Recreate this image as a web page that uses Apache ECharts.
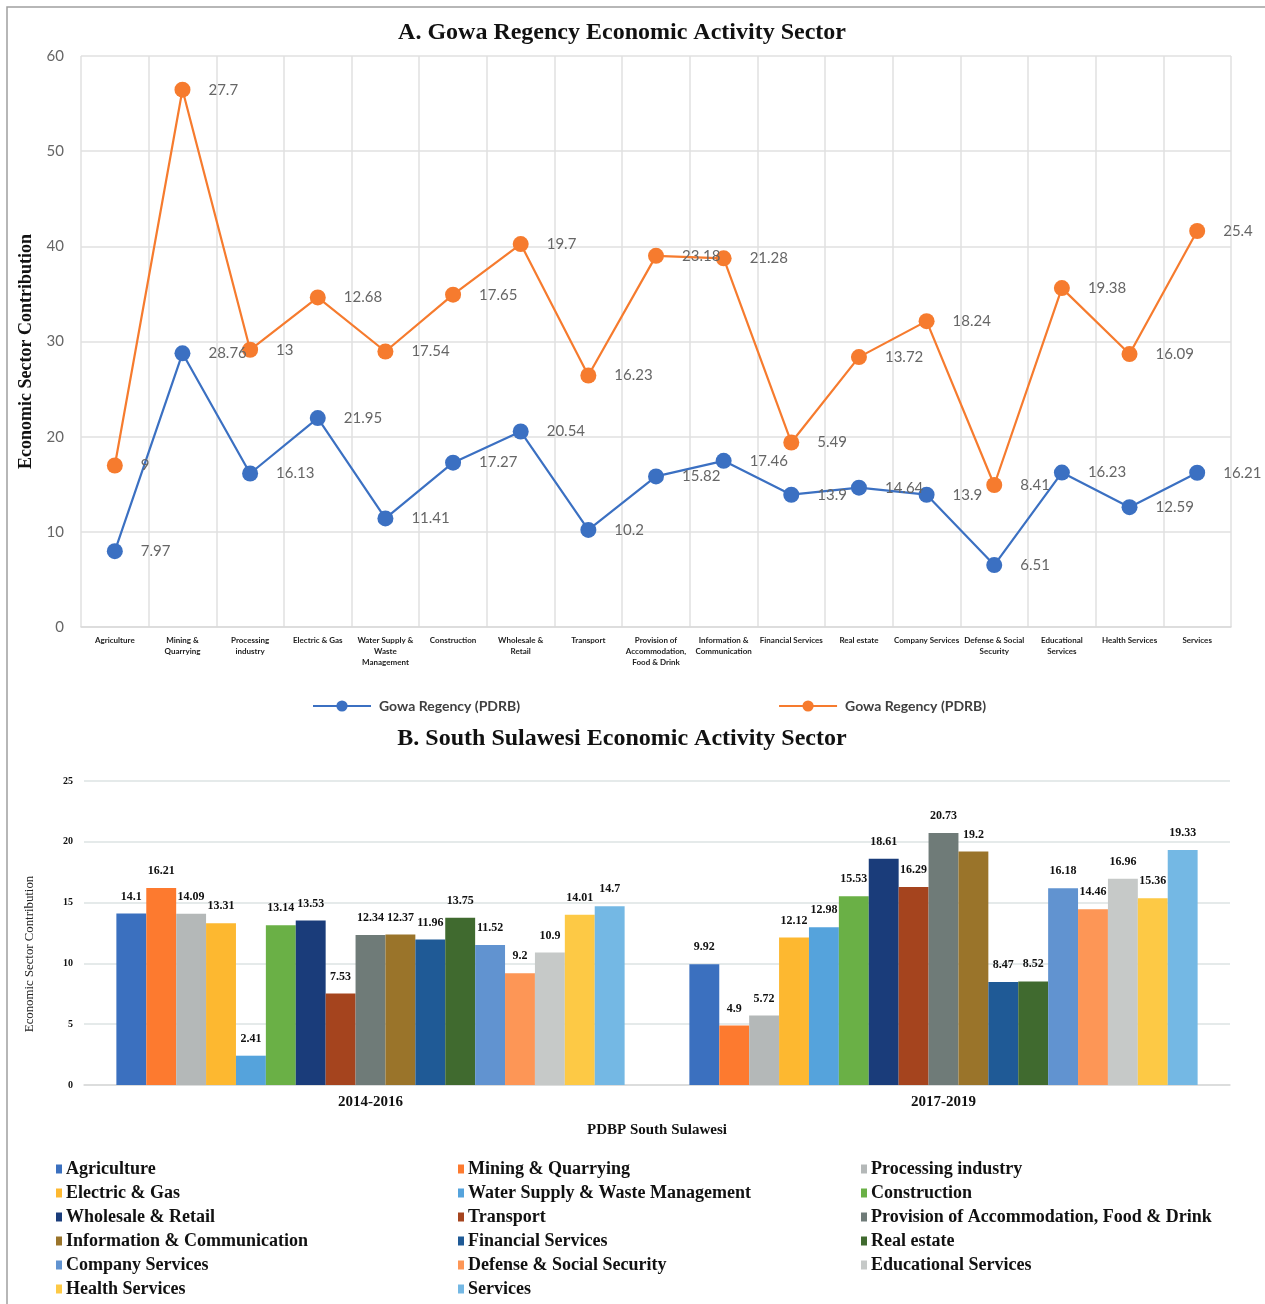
<!DOCTYPE html>
<html>
<head>
<meta charset="utf-8">
<script src="https://cdn.jsdelivr.net/npm/echarts@6/dist/echarts.min.js"></script>
<style>html,body{margin:0;padding:0;background:#fff;}#c{width:1265px;height:1304px;}</style>
</head>
<body>
<div id="c"></div>
<script>
// ---------- Data ----------
const sectorsTop = ["Agriculture", "Mining &\nQuarrying", "Processing\nindustry", "Electric & Gas",
  "Water Supply &\nWaste\nManagement", "Construction", "Wholesale &\nRetail", "Transport",
  "Provision of\nAccommodation,\nFood & Drink", "Information &\nCommunication", "Financial Services",
  "Real estate", "Company Services", "Defense & Social\nSecurity", "Educational\nServices",
  "Health Services", "Services"];
const gowaBlue = [7.97, 28.76, 16.13, 21.95, 11.41, 17.27, 20.54, 10.2, 15.82, 17.46, 13.9, 14.64, 13.9, 6.51, 16.23, 12.59, 16.21];
const gowaOrange = [9, 27.7, 13, 12.68, 17.54, 17.65, 19.7, 16.23, 23.18, 21.28, 5.49, 13.72, 18.24, 8.41, 19.38, 16.09, 25.4];
const topTicks = [0, 10, 20, 30, 40, 50, 60];

const periods = ["2014-2016", "2017-2019"];
const sectorNames = ["Agriculture", "Mining & Quarrying", "Processing industry", "Electric & Gas",
  "Water Supply & Waste Management", "Construction", "Wholesale & Retail", "Transport",
  "Provision of Accommodation, Food & Drink", "Information & Communication", "Financial Services",
  "Real estate", "Company Services", "Defense & Social Security", "Educational Services",
  "Health Services", "Services"];
const agriculture = [14.1, 9.92];
const mining = [16.21, 4.9];
const processing = [14.09, 5.72];
const electric = [13.31, 12.12];
const water = [2.41, 12.98];
const construction = [13.14, 15.53];
const wholesale = [13.53, 18.61];
const transport = [7.53, 16.29];
const provision = [12.34, 20.73];
const information = [12.37, 19.2];
const financial = [11.96, 8.47];
const realEstate = [13.75, 8.52];
const company = [11.52, 16.18];
const defense = [9.2, 14.46];
const educational = [10.9, 16.96];
const health = [14.01, 15.36];
const services = [14.7, 19.33];
const bottomTicks = [0, 5, 10, 15, 20, 25];

const sulawesiValues = [agriculture, mining, processing, electric, water, construction, wholesale,
  transport, provision, information, financial, realEstate, company, defense, educational, health, services];
const barColors = ["#3b70bf", "#fd7a2f", "#b4b8b8", "#fdb830", "#55a3dc", "#6ab046", "#1a3c7a",
  "#a5441e", "#6f7b78", "#9a742a", "#1f5a96", "#406a2f", "#6193d0", "#fd9656", "#c6c9c8", "#fdc945", "#74b8e4"];

// ---------- Chart ----------
const serif = "'Liberation Serif', 'Times New Roman', serif";
const sans = "Lato, 'Open Sans', sans-serif";
const chart = echarts.init(document.getElementById('c'), null, {renderer: 'canvas'});

const barSeries = sectorNames.map((n, i) => ({
  name: n,
  type: 'bar',
  xAxisIndex: 1, yAxisIndex: 1,
  data: sulawesiValues[i],
  barGap: '0%',
  barCategoryGap: '11.3%',
  itemStyle: {color: barColors[i]},
  label: {show: true, position: 'top', distance: 11, fontFamily: serif, fontWeight: 'bold', fontSize: 12, color: '#111'}
}));

const col1 = [0, 3, 6, 9, 12, 15].map(i => sectorNames[i]);
const col2 = [1, 4, 7, 10, 13, 16].map(i => sectorNames[i]);
const col3 = [2, 5, 8, 11, 14].map(i => sectorNames[i]);
const legendCol = (names, left) => ({
  orient: 'vertical', left: left, top: 1160, height: 150, padding: 0, data: names,
  itemWidth: 6, itemHeight: 9, itemGap: 6, icon: 'rect',
  textStyle: {fontFamily: serif, fontWeight: 'bold', fontSize: 18, lineHeight: 18, color: '#111', padding: [0, 0, 0, -1]}
});

const option = {
  animation: false,
  backgroundColor: '#fff',
  graphic: [{type: 'rect', shape: {x: 7, y: 7, width: 1400, height: 1400}, style: {fill: 'none', stroke: '#a0a0a0', lineWidth: 1.5}, silent: true}],
  title: [
    {text: 'A. Gowa Regency Economic Activity Sector', left: 617, top: 16, textAlign: 'center',
      textStyle: {fontFamily: serif, fontWeight: 'bold', fontSize: 24, color: '#111'}},
    {text: 'B. South Sulawesi Economic Activity Sector', left: 617, top: 722, textAlign: 'center',
      textStyle: {fontFamily: serif, fontWeight: 'bold', fontSize: 24, color: '#111'}}
  ],
  legend: [
    {left: 307, top: 694, itemWidth: 58, itemHeight: 14, itemGap: 258,
      data: ['Gowa Regency (PDRB)', 'Gowa Regency (PDRB) '],
      textStyle: {fontFamily: sans, fontWeight: 'bold', fontSize: 14, color: '#404040', padding: [0, 0, 0, 3]}},
    legendCol(col1, 56), legendCol(col2, 458), legendCol(col3, 861)
  ],
  grid: [
    {left: 81, top: 56, width: 1150, height: 571},
    {left: 84, top: 781, width: 1146, height: 304}
  ],
  xAxis: [
    {type: 'category', gridIndex: 0, data: sectorsTop, boundaryGap: true,
      axisLine: {lineStyle: {color: '#d9d9d9', width: 1.5}}, axisTick: {show: false},
      splitLine: {show: true, lineStyle: {color: '#e1e1e1', width: 1.5}},
      axisLabel: {interval: 0, margin: 8, fontFamily: sans, fontWeight: 'bold', fontSize: 8, lineHeight: 11, color: '#222'}},
    {type: 'category', gridIndex: 1, data: periods,
      name: 'PDBP South Sulawesi', nameLocation: 'middle', nameGap: 38,
      nameTextStyle: {fontFamily: serif, fontWeight: 'bold', fontSize: 15, color: '#111'},
      axisLine: {lineStyle: {color: '#d9d9d9', width: 1.5}}, axisTick: {show: false},
      axisLabel: {margin: 10, fontFamily: serif, fontWeight: 'bold', fontSize: 15, color: '#111'}}
  ],
  yAxis: [
    {type: 'value', gridIndex: 0, min: topTicks[0], max: topTicks[topTicks.length - 1], interval: 10,
      name: 'Economic Sector Contribution', nameLocation: 'middle', nameGap: 44,
      nameTextStyle: {fontFamily: serif, fontWeight: 'bold', fontSize: 18, color: '#111', padding: [0, 20, 0, 0]},
      axisLine: {show: false}, axisTick: {show: false},
      splitLine: {lineStyle: {color: '#e1e1e1', width: 1.5}},
      axisLabel: {margin: 17, fontFamily: sans, fontSize: 15, color: '#666'}},
    {type: 'value', gridIndex: 1, min: bottomTicks[0], max: bottomTicks[bottomTicks.length - 1], interval: 5,
      name: 'Economic Sector Contribution', nameLocation: 'middle', nameGap: 48,
      nameTextStyle: {fontFamily: serif, fontSize: 12.8, color: '#222', padding: [0, 42, 0, 0]},
      axisLine: {show: false}, axisTick: {show: false},
      splitLine: {lineStyle: {color: '#dde3e3', width: 1.5}},
      axisLabel: {margin: 11, fontFamily: serif, fontWeight: 'bold', fontSize: 10, color: '#111'}}
  ],
  series: [
    {name: 'Gowa Regency (PDRB)', type: 'line', xAxisIndex: 0, yAxisIndex: 0, stack: 'gowa',
      data: gowaBlue, symbol: 'circle', symbolSize: 16,
      itemStyle: {color: '#3b70c2'}, lineStyle: {width: 2.2, color: '#3b70c2'},
      label: {show: true, position: 'right', distance: 18, fontFamily: sans, fontSize: 15, color: '#666'}},
    {name: 'Gowa Regency (PDRB) ', type: 'line', xAxisIndex: 0, yAxisIndex: 0, stack: 'gowa',
      data: gowaOrange, symbol: 'circle', symbolSize: 16,
      itemStyle: {color: '#f67b2e'}, lineStyle: {width: 2.2, color: '#f67b2e'},
      label: {show: true, position: 'right', distance: 18, fontFamily: sans, fontSize: 15, color: '#666'}}
  ].concat(barSeries)
};
chart.setOption(option);
</script>
</body>
</html>
